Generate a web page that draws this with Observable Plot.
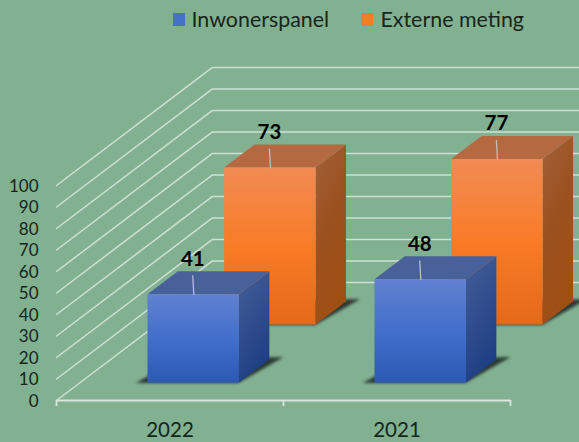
<!DOCTYPE html>
<html>
<head>
<meta charset="utf-8">
<script src="https://cdn.jsdelivr.net/npm/d3@7"></script>
<script src="https://cdn.jsdelivr.net/npm/@observablehq/plot@0.6"></script>
<style>
  html, body { margin: 0; padding: 0; background: #82b192; width: 579px; height: 442px; overflow: hidden; }
  #legend { position: relative; height: 46px; font: 21.4px Lato, sans-serif; color: #16261d; }
  #legend span { position: absolute; top: 7px; line-height: 24px; white-space: nowrap; }
  #legend i { position: absolute; top: 13px; width: 12.5px; height: 12.5px; display: block; }
  svg { display: block; }
</style>
</head>
<body>
<div id="legend"></div>
<div id="chart"></div>
<script>
const categories = ["2022", "2021"];
const inwonerspanel = [41, 48];
const externeMeting = [73, 77];
const seriesNames = ["Inwonerspanel", "Externe meting"];
const valueTicks = [0, 10, 20, 30, 40, 50, 60, 70, 80, 90, 100];

// Oblique projection: depth z (0 front .. 1 back wall) shifts a point right and up.
const kx = 0.687, ky = 54.9;
const P = (u, z, v) => ({ x: u + z * kx, y: v + z * ky });
const px = 1 / 227;

const barFrom = 0.296, barTo = 0.699, barDepth = 0.195;
const seriesZ = [0.1525, 0.644];

const poly = (id, pts) => pts.map(p => ({ ...p, id }));

function bars(values, zi) {
  const z0 = seriesZ[zi], z1 = z0 + barDepth;
  return values.map((v, i) => {
    const a = i + barFrom, b = i + barTo;
    return {
      v, i,
      front: poly(`f${i}`, [P(a, z0, 0), P(b, z0, 0), P(b, z0, v), P(a, z0, v)]),
      side: poly(`s${i}`, [P(b, z0, 0), P(b, z1, 0), P(b, z1, v), P(b, z0, v)]),
      top: poly(`t${i}`, [P(a, z0, v), P(b, z0, v), P(b, z1, v), P(a, z1, v)]),
      shadow: poly(`d${i}`, [P(a - 11 * px, z0 - 0.004, 0), P(b, z0 - 0.004, 0), P(b + 11 * px, z1 + 0.02, 0), P(a, z1, 0)]),
      leader: [P(i + 0.5, z0, v), P(i + 0.5 - 1 * px, z0, v + 8.6)],
      label: { ...P(i + 0.5 - 1 * px, z0, v), text: String(v) }
    };
  });
}

const blue = bars(inwonerspanel, 0);
const orange = bars(externeMeting, 1);

function face(list, key, fill) {
  return Plot.line(list.flatMap(d => d[key]), { x: "x", y: "y", z: "id", fill, stroke: "none" });
}

function barMarks(list, name) {
  return [
    Plot.line(list.flatMap(d => d.shadow), { x: "x", y: "y", z: "id", fill: "#2b3a32", stroke: "none", imageFilter: "blur(1.8px)" }),
    face(list, "side", `url(#${name}Side)`),
    face(list, "top", `url(#${name}Top)`),
    face(list, "front", `url(#${name}Front)`),
    ...list.map(d => Plot.line(d.leader, { x: "x", y: "y", stroke: "#b9c0bd", strokeWidth: 1.3 }))
  ];
}

function gradient(defs, id, stops, diagonal) {
  const g = defs.append("linearGradient").attr("id", id)
    .attr("x1", 0).attr("y1", 0).attr("x2", diagonal ? 0.35 : 0).attr("y2", 1);
  stops.forEach(([o, c]) => g.append("stop").attr("offset", o).attr("stop-color", c));
}

function defsMark() {
  const defs = d3.create("svg:defs");
  gradient(defs, "blueFront", [[0, "#6181d0"], [0.5, "#426fcb"], [1, "#2c59b4"]]);
  gradient(defs, "blueSide", [[0, "#445f98"], [1, "#1f3f84"]], true);
  gradient(defs, "blueTop", [[0, "#48619a"], [1, "#48619a"]]);
  gradient(defs, "orangeFront", [[0, "#f18b54"], [0.5, "#f97b26"], [1, "#e4691a"]]);
  gradient(defs, "orangeSide", [[0, "#a3603a"], [0.5, "#9b5220"], [1, "#a04f14"]], true);
  gradient(defs, "orangeTop", [[0, "#b4683f"], [1, "#b56a42"]]);
  return defs.node();
}

const gridColor = "#cfe0d5";
const grid = valueTicks.map(v => [P(0, 0, v), P(0, 1, v), P(2.7, 1, v)]);

const chart = Plot.plot({
  width: 579,
  height: 396,
  marginLeft: 56,
  marginRight: 0,
  marginTop: 21,
  marginBottom: 42,
  style: { background: "#82b192", overflow: "hidden" },
  x: { domain: [0, 523 / 227], axis: null },
  y: { domain: [0, 333 / 2.15], axis: null },
  marks: [
    defsMark,
    ...grid.map(g => Plot.line(g, { x: "x", y: "y", stroke: gridColor, strokeWidth: 1.5 })),
    Plot.ruleY([0], { x1: 0, x2: 2, stroke: "#d8e6dc", strokeWidth: 1.8 }),
    Plot.axisX({ ticks: [0, 1, 2], tickFormat: () => "", tickSize: 6, stroke: "#d8e6dc", strokeWidth: 1.8, anchor: "bottom", label: null }),
    Plot.axisY({
      ticks: valueTicks, tickSize: 0, tickPadding: 18, label: null, anchor: "left",
      fontSize: 17, fontFamily: "Lato", fill: "#14261b", dy: 1
    }),
    Plot.text(categories, {
      x: (d, i) => i + 0.5, y: 0, text: d => d, dy: 30,
      fontSize: 20.5, fontFamily: "Lato", fill: "#14261b", lineAnchor: "middle"
    }),
    ...barMarks(orange, "orange"),
    ...barMarks(blue, "blue"),
    Plot.text([...orange, ...blue].map(d => d.label), {
      x: "x", y: "y", text: "text", dy: -35,
      fontSize: 20.5, fontWeight: 700, fontFamily: "Lato", fill: "#000", lineAnchor: "middle"
    })
  ]
});
document.getElementById("chart").append(chart);

const legend = d3.select("#legend");
const swatches = ["#4472c9", "#f67c2c"];
const swatchX = [172.7, 360.7];
const textX = [191.5, 380.5];
seriesNames.forEach((name, i) => {
  legend.append("i").style("left", swatchX[i] + "px").style("background", swatches[i]);
  legend.append("span").style("left", textX[i] + "px").text(name);
});
</script>
</body>
</html>
